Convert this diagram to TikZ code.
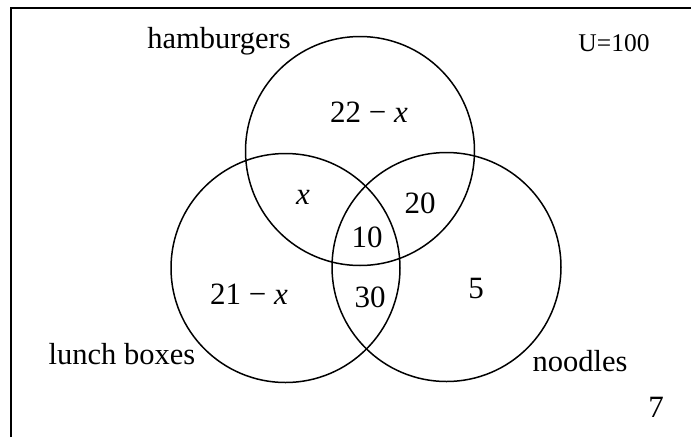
\documentclass[tikz,border=0pt]{standalone}
\usepackage{fontspec}
\setmainfont{Liberation Serif}
\usetikzlibrary{positioning}
\tikzset{
  setcircle/.style={draw,line width=1.5pt},
  setlabel/.style={font=\fontsize{30.5}{34}\selectfont,inner sep=0pt},
  regionval/.style={font=\fontsize{31}{35}\selectfont,inner sep=0pt}
}
\begin{document}
\begin{tikzpicture}[x=1pt,y=-1pt]
\useasboundingbox (0,0) rectangle (691,437);
% frame (only top and left edges are visible)
\draw[line width=2.2pt] (11,437) -- (11,8) -- (691,8);
% the three sets
\node[setcircle,circle,minimum size=229pt,inner sep=0pt] (ham) at (360,151) {};
\node[setcircle,circle,minimum size=229pt,inner sep=0pt] (lunch) at (285.5,268) {};
\node[setcircle,circle,minimum size=229pt,inner sep=0pt] (nood) at (446.5,267) {};
% set names
\node[setlabel] (hamname) at (219,41) {hamburgers};
\node[setlabel] (lunchname) at (122,354) {lunch boxes};
\node[setlabel] (noodname) at (580,361) {noodles};
\node[font=\fontsize{25.5}{29}\selectfont,inner sep=0pt] (univ) at (614,43) {U=100};
% region values
\node[regionval] (hamonly) at (369,112) {22 − \textit{x}};
\node[regionval] (hamlunch) at (303,197) {\textit{x}};
\node[regionval] (hamnood) at (420,203) {20};
\node[regionval] (allthree) at (367,237) {10};
\node[regionval] (lunchonly) at (249,294) {21 − \textit{x}};
\node[regionval] (lunchnood) at (370,297) {30};
\node[regionval] (noodonly) at (476,288) {5};
\node[regionval] (outside) at (656,407) {7};
\end{tikzpicture}
\end{document}
